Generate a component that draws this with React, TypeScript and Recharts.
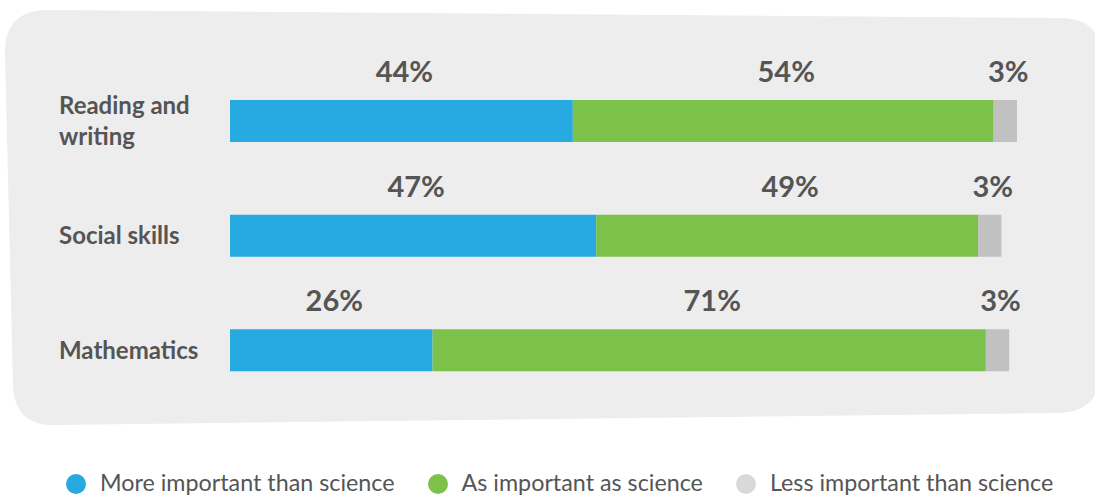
import React from "react";
import { BarChart, Bar, XAxis, YAxis, Legend, LabelList } from "recharts";

const categories = ["Reading and writing", "Social skills", "Mathematics"];
const moreImportant = [44, 47, 26];
const asImportant = [54, 49, 71];
const lessImportant = [3, 3, 3];

const seriesNames = [
  "More important than science",
  "As important as science",
  "Less important than science",
];

const BLUE = "#27a9e1";
const GREEN = "#7bc14a";
const GREY = "#c1c1c1";
const GREY_DOT = "#d9d9d9";
const INK = "#555555";
const FONT = "Lato, 'Open Sans', sans-serif";

const data = categories.map((c, i) => ({
  category: c,
  more: moreImportant[i],
  same: asImportant[i],
  less: lessImportant[i],
}));

const series = [
  { key: "more", name: seriesNames[0], color: BLUE, dot: BLUE },
  { key: "same", name: seriesNames[1], color: GREEN, dot: GREEN },
  { key: "less", name: seriesNames[2], color: GREY, dot: GREY_DOT },
];

function wrap(text: string, max = 14) {
  const lines: string[] = [];
  let cur = "";
  for (const w of text.split(" ")) {
    const next = cur ? cur + " " + w : w;
    if (next.length > max && cur) {
      lines.push(cur);
      cur = w;
    } else cur = next;
  }
  if (cur) lines.push(cur);
  return lines;
}

function CategoryTick(props: any) {
  const { y, payload } = props;
  const lines = wrap(String(payload.value));
  const lh = 31;
  const first = y - ((lines.length - 1) * lh) / 2;
  return (
    <text x={59} y={first} fill={INK} fontFamily={FONT} fontWeight={700} fontSize={24} textAnchor="start">
      {lines.map((l, i) => (
        <tspan key={i} x={59} y={first + i * lh} dy={8}>
          {l}
        </tspan>
      ))}
    </text>
  );
}

function PctLabel(props: any) {
  const { x, y, width, value } = props;
  return (
    <text x={x + width / 2 + 3} y={y - 18} textAnchor="middle" fill={INK} fontFamily={FONT} fontWeight={700} fontSize={29}>
      {value}%
    </text>
  );
}

function LegendContent() {
  return (
    <div
      style={{
        display: "flex",
        alignItems: "center",
        height: 30,
        paddingLeft: 66,
        fontFamily: FONT,
        fontSize: 23.3,
        color: INK,
        whiteSpace: "nowrap",
      }}
    >
      {series.map((s) => (
        <div key={s.key} style={{ display: "flex", alignItems: "center", marginRight: 33 }}>
          <span
            style={{
              width: 20,
              height: 20,
              borderRadius: 10,
              background: s.dot,
              marginRight: 14,
              display: "inline-block",
              position: "relative",
              top: 2,
            }}
          />
          <span>{s.name}</span>
        </div>
      ))}
    </div>
  );
}

export default function App() {
  return (
    <div style={{ position: "absolute", left: 0, top: 0, width: 1095, height: 496, background: "#fff", overflow: "hidden" }}>
      <svg width={1095} height={496} style={{ position: "absolute", left: 0, top: 0 }}>
        <path
          d="M 5,52 Q 5,10 48,10 L 1060,18 Q 1102,18 1102,60 L 1100,372 Q 1100,412 1058,413 L 55,425 Q 14,426 13,385 Z"
          fill="#ededed"
        />
      </svg>
      <div style={{ position: "absolute", left: 0, top: 0 }}>
        <BarChart
          width={1095}
          height={496}
          data={data}
          layout="vertical"
          margin={{ top: 64, right: 78, left: 0, bottom: 58 }}
        >
          <XAxis type="number" domain={[0, 101]} hide />
          <YAxis
            type="category"
            dataKey="category"
            width={230}
            axisLine={false}
            tickLine={false}
            tick={<CategoryTick />}
          />
          <Legend
            verticalAlign="bottom"
            content={<LegendContent />}
            wrapperStyle={{ height: 30, width: 1095, left: 0, top: 467, bottom: "auto" }}
          />
          {series.map((s) => (
            <Bar key={s.key} dataKey={s.key} name={s.name} stackId="a" fill={s.color} barSize={42} isAnimationActive={false}>
              <LabelList dataKey={s.key} content={<PctLabel />} />
            </Bar>
          ))}
        </BarChart>
      </div>
    </div>
  );
}
